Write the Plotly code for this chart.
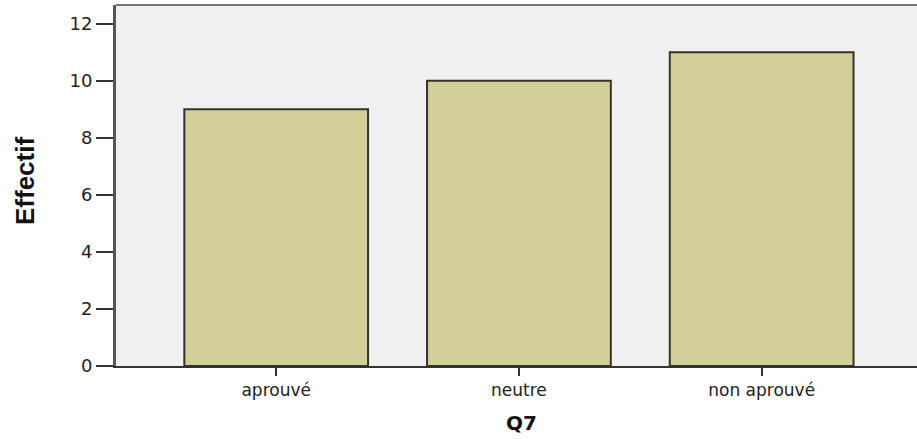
import plotly.graph_objects as go

categories = ["aprouvé", "neutre", "non aprouvé"]
counts = [9, 10, 11]
y_ticks = [0, 2, 4, 6, 8, 10, 12]

L, R, T, B = 116, 0, 5, 73
W, H = 917, 439
pw = W - L - R
ph = H - T - B

fig = go.Figure()
fig.add_trace(go.Bar(
    x=categories, y=counts, width=0.757,
    marker=dict(color="#D3CF98", line=dict(color="#33332a", width=2)),
))

fig.update_layout(
    width=W, height=H,
    margin=dict(l=L, r=R, t=T, b=B, autoexpand=False),
    paper_bgcolor="white", plot_bgcolor="#F0F0F1",
    showlegend=False,
    font=dict(family="DejaVu Sans, Liberation Sans, Arial", color="#222"),
)
fig.update_xaxes(
    type="category", range=[-0.66, 2.64],
    showline=True, linecolor="#333", linewidth=2,
    ticks="outside", ticklen=8, tickcolor="#333", tickwidth=1.5,
    tickfont=dict(size=17),
    showgrid=False,
)
fig.update_yaxes(
    range=[0, 12.66], tickvals=y_ticks,
    showline=True, linecolor="#555", linewidth=3,
    ticks="outside", ticklen=17, tickcolor="#333", tickwidth=1.5,
    tickfont=dict(size=18),
    showgrid=False, zeroline=False,
)
fig.add_shape(type="line", xref="paper", yref="paper", x0=0, x1=1, y0=1, y1=1,
              line=dict(color="#777", width=2))
fig.add_annotation(text="<b>Effectif</b>", textangle=-90,
                   xref="paper", yref="paper",
                   x=(25 - L) / pw, y=(H - B - 181) / ph,
                   xanchor="center", yanchor="middle", showarrow=False,
                   font=dict(size=26, family="Liberation Sans, Arial", color="#111"))
fig.add_annotation(text="<b>Q7</b>", xref="paper", yref="paper",
                   x=(521 - L) / pw, y=-(423 - (H - B)) / ph,
                   xanchor="center", yanchor="middle", showarrow=False,
                   font=dict(size=20, family="DejaVu Sans, Liberation Sans", color="#111"))

fig.write_html("out.html", config={"displayModeBar": False},
               post_script="document.body.style.margin='0';")
